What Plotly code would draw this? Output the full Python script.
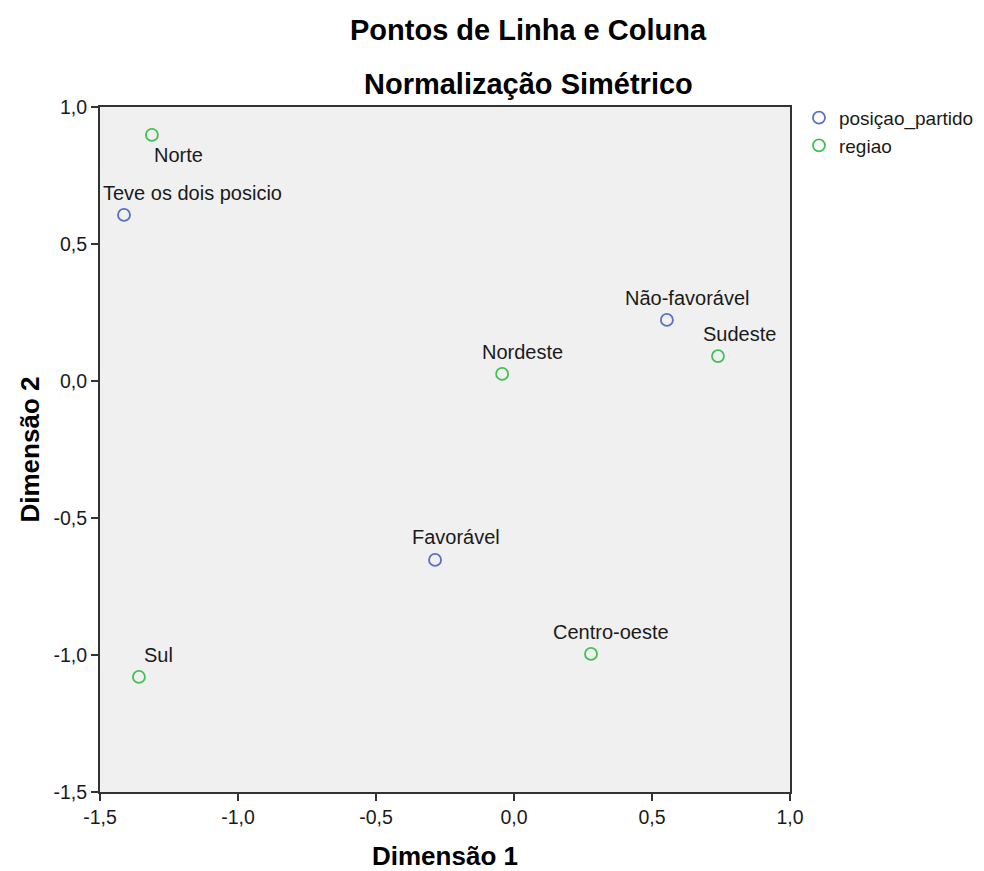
import plotly.graph_objects as go

# Data
row_labels = ["Teve os dois posicio", "Não-favorável", "Favorável"]
row_x = [-1.413, 0.554, -0.286]
row_y = [0.606, 0.223, -0.653]

col_labels = ["Norte", "Sudeste", "Nordeste", "Centro-oeste", "Sul"]
col_x = [-1.312, 0.739, -0.043, 0.279, -1.359]
col_y = [0.898, 0.091, 0.026, -0.996, -1.080]

x_ticks = [-1.5, -1.0, -0.5, 0.0, 0.5, 1.0]
y_ticks = [-1.5, -1.0, -0.5, 0.0, 0.5, 1.0]

# label offsets in pixels (style only)
row_offsets = [(68, 22), (21, 22), (21, 23)]
col_offsets = [(27, -20), (22, 22), (20, 22), (20, 22), (20, 22)]

BLUE = "#5b70c4"
GREEN = "#43c055"
FONT = "Liberation Sans, Arial, sans-serif"
TXT = "#1a1a1a"

fig = go.Figure()
fig.add_trace(go.Scatter(x=row_x, y=row_y, mode="markers", name="posiçao_partido",
                         marker=dict(symbol="circle-open", size=12, color=BLUE, line=dict(width=1.8))))
fig.add_trace(go.Scatter(x=col_x, y=col_y, mode="markers", name="regiao",
                         marker=dict(symbol="circle-open", size=12, color=GREEN, line=dict(width=1.8))))

annotations = []
for lab, x, y, (dx, dy) in zip(row_labels, row_x, row_y, row_offsets):
    annotations.append(dict(x=x, y=y, text=lab, showarrow=False, xshift=dx, yshift=dy,
                            font=dict(family=FONT, size=20, color=TXT)))
for lab, x, y, (dx, dy) in zip(col_labels, col_x, col_y, col_offsets):
    annotations.append(dict(x=x, y=y, text=lab, showarrow=False, xshift=dx, yshift=dy,
                            font=dict(family=FONT, size=20, color=TXT)))

# titles as paper-positioned text
annotations.append(dict(xref="paper", yref="paper", x=428 / 690, y=1.1124, xanchor="center", yanchor="middle",
                        text="<b>Pontos de Linha e Coluna</b>", showarrow=False,
                        font=dict(family=FONT, size=29, color="black")))
annotations.append(dict(xref="paper", yref="paper", x=428 / 690, y=1.0336, xanchor="center", yanchor="middle",
                        text="<b>Normalização Simétrico</b>", showarrow=False,
                        font=dict(family=FONT, size=29, color="black")))
annotations.append(dict(xref="paper", yref="paper", x=0.5, y=-64 / 685, xanchor="center", yanchor="middle",
                        text="<b>Dimensão 1</b>", showarrow=False,
                        font=dict(family=FONT, size=26, color="black")))
annotations.append(dict(xref="paper", yref="paper", x=-71 / 690, y=0.5, xanchor="center", yanchor="middle",
                        text="<b>Dimensão 2</b>", showarrow=False, textangle=-90,
                        font=dict(family=FONT, size=26, color="black")))

fmt = lambda v: f"{v:.1f}".replace(".", ",")

axis_common = dict(showgrid=False, zeroline=False, showline=True, linecolor="#333", linewidth=2,
                   mirror=True, ticks="outside", ticklen=7, tickcolor="#333", tickwidth=2,
                   tickfont=dict(family=FONT, size=19.5, color=TXT))

fig.update_layout(
    width=1000, height=871,
    paper_bgcolor="white", plot_bgcolor="#f0f0f0",
    margin=dict(l=92, r=218, t=99, b=87),
    font=dict(family=FONT, size=19.5, color=TXT),
    xaxis=dict(range=[-1.5, 1.0], tickvals=x_ticks, ticktext=[fmt(v) for v in x_ticks], **axis_common),
    yaxis=dict(range=[-1.5, 1.0], tickvals=y_ticks, ticktext=[fmt(v) for v in y_ticks], **axis_common),
    legend=dict(x=1.013, xanchor="left", y=1.012, yanchor="top",
                font=dict(family=FONT, size=19, color=TXT),
                itemwidth=30, tracegroupgap=0, bgcolor="rgba(0,0,0,0)"),
    annotations=annotations,
)

fig.write_html("out.html")
